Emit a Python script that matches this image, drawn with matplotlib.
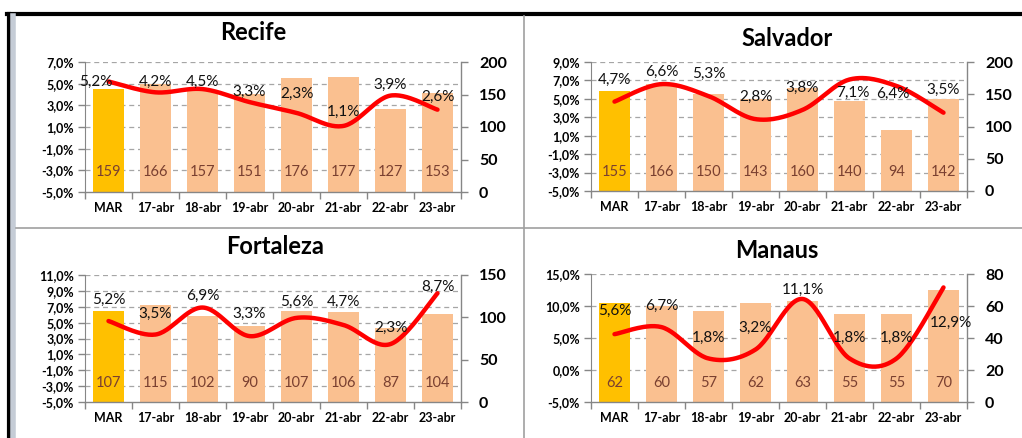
import numpy as np
import matplotlib
matplotlib.use("Agg")
from matplotlib import pyplot as plt
from matplotlib.lines import Line2D

plt.rcParams['font.family'] = ['Lato', 'DejaVu Sans']

# categories and values
dias = ['MAR', '17-abr', '18-abr', '19-abr', '20-abr', '21-abr', '22-abr', '23-abr']

recife_qtd = [159, 166, 157, 151, 176, 177, 127, 153]
recife_pct = [5.2, 4.2, 4.5, 3.3, 2.3, 1.1, 3.9, 2.6]

salvador_qtd = [155, 166, 150, 143, 160, 140, 94, 142]
salvador_pct = [4.7, 6.6, 5.3, 2.8, 3.8, 7.1, 6.4, 3.5]

fortaleza_qtd = [107, 115, 102, 90, 107, 106, 87, 104]
fortaleza_pct = [5.2, 3.5, 6.9, 3.3, 5.6, 4.7, 2.3, 8.7]

manaus_qtd = [62, 60, 57, 62, 63, 55, 55, 70]
manaus_pct = [5.6, 6.7, 1.8, 3.2, 11.1, 1.8, 1.8, 12.9]

GOLD = '#FFC000'
PEACH = '#FAC090'
GRID = '#A6A6A6'
AXC = '#868686'
BARTXT = '#7A4030'
W, H = 1022, 438


def smooth(x, y, n=30):
    # bezier smoothing like the excel "smoothed line"
    x = np.asarray(x, float)
    y = np.asarray(y, float)
    px, py = [], []
    for i in range(len(x) - 1):
        x0, y0 = x[max(i - 1, 0)], y[max(i - 1, 0)]
        x3, y3 = x[min(i + 2, len(x) - 1)], y[min(i + 2, len(x) - 1)]
        c1x = x[i] + (x[i + 1] - x0) / 6
        c1y = y[i] + (y[i + 1] - y0) / 6
        c2x = x[i + 1] - (x3 - x[i]) / 6
        c2y = y[i + 1] - (y3 - y[i]) / 6
        t = np.linspace(0, 1, n)
        b = [(1 - t) ** 3, 3 * (1 - t) ** 2 * t, 3 * (1 - t) * t ** 2, t ** 3]
        px.extend(b[0] * x[i] + b[1] * c1x + b[2] * c2x + b[3] * x[i + 1])
        py.extend(b[0] * y[i] + b[1] * c1y + b[2] * c2y + b[3] * y[i + 1])
    return px, py


def fmt_pct(v):
    return f"{v:.1f}".replace('.', ',') + '%'


def draw_panel(fig, box, title, title_xy, qtd, pct, pct_lim, pct_step, qtd_max, qtd_step, lab_off):
    l, t, r, b = box
    ax = fig.add_axes([l / W, 1 - b / H, (r - l) / W, (b - t) / H])
    ax2 = ax.twinx()
    x = np.arange(len(dias))
    lo, hi = pct_lim

    # gridlines (left-axis ticks) drawn behind the bars
    for p in np.arange(lo, hi + 0.01, pct_step):
        yv = (p - lo) / (hi - lo) * qtd_max
        if p > lo:
            ax.axhline(yv, color=GRID, lw=0.9, ls=(0, (4, 3)), zorder=0)

    colors = [GOLD] + [PEACH] * (len(dias) - 1)
    ax.bar(x, qtd, width=0.66, color=colors, zorder=2)
    for xi, q in zip(x, qtd):
        ax.text(xi, qtd_max * 0.15, str(q), ha='center', va='center',
                fontsize=10.5, color=BARTXT, zorder=3)

    # bars -> right axis
    ax.set_xlim(-0.5, len(dias) - 0.5)
    ax.set_ylim(0, qtd_max)
    ax.yaxis.tick_right()
    ax.set_yticks(np.arange(0, qtd_max + 1, qtd_step))
    ax.set_yticklabels([str(v) for v in np.arange(0, qtd_max + 1, qtd_step)],
                       fontsize=11.5, fontweight='bold', color='black')
    ax.tick_params(axis='y', color=AXC, length=5, width=1, pad=8)
    ax.set_xticks(x)
    ax.set_xticklabels(dias, fontsize=9, fontweight='bold')
    ax.set_xticks(np.arange(-0.5, len(dias), 1), minor=True)
    ax.tick_params(axis='x', which='major', length=0, pad=7)
    ax.tick_params(axis='x', which='minor', length=5, width=1, color=AXC)
    for s in ['top', 'left']:
        ax.spines[s].set_visible(False)
    for s in ['right', 'bottom']:
        ax.spines[s].set_color(AXC)
        ax.spines[s].set_linewidth(1)

    # percent line -> left axis
    ax2.yaxis.tick_left()
    ax2.set_ylim(lo, hi)
    pticks = np.arange(lo, hi + 0.01, pct_step)
    ax2.set_yticks(pticks)
    ax2.set_yticklabels([fmt_pct(v) for v in pticks], fontsize=9, fontweight='bold', color='black')
    ax2.tick_params(axis='y', color=AXC, length=5, width=1, pad=3)
    for s in ['top', 'right', 'bottom']:
        ax2.spines[s].set_visible(False)
    ax2.spines['left'].set_color(AXC)
    sx, sy = smooth(x, pct)
    ax2.plot(sx, sy, color='#FF0000', lw=3.2, solid_capstyle='round', zorder=4)
    for xi, v, off in zip(x, pct, lab_off):
        ax2.annotate(fmt_pct(v), (xi, v), xytext=off, textcoords='offset pixels',
                     ha='center', va='center', fontsize=11, color='#111111', zorder=5)

    fig.text(title_xy[0] / W, 1 - title_xy[1] / H, title, ha='center', va='center',
             fontsize=17, fontweight='bold')


fig = plt.figure(figsize=(W / 100, H / 100), dpi=100)

draw_panel(fig, (85, 62, 461, 192), 'Recife', (253, 33), recife_qtd, recife_pct,
           (-5, 7), 2, 200, 50,
           [(-13, 0), (0, 10), (0, 7), (0, 10), (0, 19), (0, 14), (0, 11), (0, 13)])
draw_panel(fig, (591, 62, 967, 191), 'Salvador', (787, 38), salvador_qtd, salvador_pct,
           (-5, 9), 2, 200, 50,
           [(0, 22), (0, 12), (0, 22), (0, 22), (0, 22), (3, -13), (-4, -8), (0, 23)])
draw_panel(fig, (85, 275, 461, 402), 'Fortaleza', (275, 247), fortaleza_qtd, fortaleza_pct,
           (-5, 11), 2, 150, 50,
           [(0, 21), (0, 21), (0, 12), (0, 22), (0, 16), (0, 23), (0, 16), (0, 6)])
draw_panel(fig, (591, 274, 967, 402), 'Manaus', (777, 250), manaus_qtd, manaus_pct,
           (-5, 15), 5, 80, 20,
           [(0, 23), (0, 21), (0, 21), (0, 22), (0, 9), (0, 21), (0, 21), (7, -35)])

# frame lines of the spreadsheet grid
fig.add_artist(Line2D([7 / W, 1], [1 - 14 / H, 1 - 14 / H], color='black', lw=3))
fig.add_artist(Line2D([8.5 / W, 8.5 / W], [0, 1 - 14 / H], color='black', lw=3))
fig.add_artist(Line2D([13 / W, 13 / W], [0, 1 - 16 / H], color='#C5CCD6', lw=4))
fig.add_artist(Line2D([524 / W, 524 / W], [0, 1 - 16 / H], color='#A0A0A0', lw=1.2))
fig.add_artist(Line2D([16 / W, 1], [1 - 228 / H, 1 - 228 / H], color='#A0A0A0', lw=1.2))

fig.savefig('out.png', dpi=100)
